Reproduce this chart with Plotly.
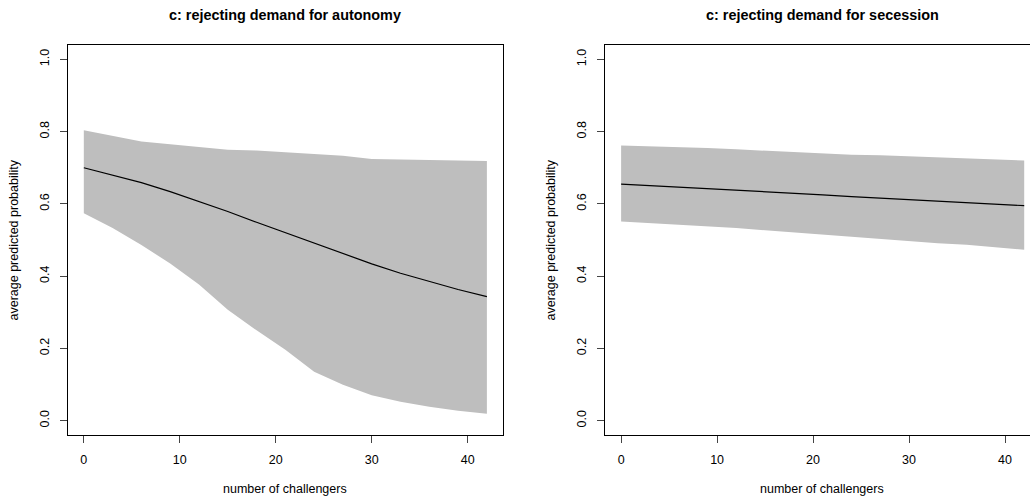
import plotly.graph_objects as go

# ---- data ----
challengers = [0, 3, 6, 9, 12, 15, 18, 21, 24, 27, 30, 33, 36, 39, 42]

autonomy_mean = [0.700, 0.680, 0.659, 0.634, 0.607, 0.579, 0.549, 0.520,
                 0.490, 0.461, 0.434, 0.408, 0.385, 0.363, 0.343]
autonomy_upper = [0.804, 0.788, 0.773, 0.765, 0.757, 0.750, 0.748, 0.742,
                  0.738, 0.733, 0.724, 0.723, 0.721, 0.719, 0.719]
autonomy_lower = [0.574, 0.533, 0.486, 0.435, 0.377, 0.307, 0.250, 0.196,
                  0.135, 0.099, 0.070, 0.052, 0.038, 0.027, 0.019]

secession_mean = [0.655, 0.651, 0.646, 0.642, 0.638, 0.633, 0.629, 0.625,
                  0.620, 0.616, 0.612, 0.607, 0.603, 0.599, 0.595]
secession_upper = [0.762, 0.760, 0.757, 0.755, 0.751, 0.747, 0.743, 0.739,
                   0.736, 0.735, 0.732, 0.729, 0.725, 0.722, 0.720]
secession_lower = [0.551, 0.547, 0.543, 0.537, 0.533, 0.527, 0.521, 0.514,
                   0.507, 0.501, 0.495, 0.491, 0.487, 0.481, 0.473]

x_ticks = [0, 10, 20, 30, 40]
y_ticks = [0.0, 0.2, 0.4, 0.6, 0.8, 1.0]
y_tick_labels = ["0.0", "0.2", "0.4", "0.6", "0.8", "1.0"]

titles = ["c: rejecting demand for autonomy", "c: rejecting demand for secession"]
x_title = "number of challengers"
y_title = "average predicted probability"

FONT = "Liberation Sans, Arial, sans-serif"
BAND = "#BEBEBE"
TICK_SIZE = 12.5

fig = go.Figure()

panels = [
    ("x", "y", autonomy_lower, autonomy_upper, autonomy_mean),
    ("x2", "y2", secession_lower, secession_upper, secession_mean),
]
for xa, ya, lo, up, mn in panels:
    fig.add_trace(go.Scatter(x=challengers, y=lo, mode="lines", line=dict(width=0, color=BAND),
                             xaxis=xa, yaxis=ya, showlegend=False, hoverinfo="skip"))
    fig.add_trace(go.Scatter(x=challengers, y=up, mode="lines", line=dict(width=0, color=BAND),
                             fill="tonexty", fillcolor=BAND,
                             xaxis=xa, yaxis=ya, showlegend=False, hoverinfo="skip"))
    fig.add_trace(go.Scatter(x=challengers, y=mn, mode="lines", line=dict(width=1.2, color="black"),
                             xaxis=xa, yaxis=ya, showlegend=False))

W, H = 1030, 497
top_px, bot_px = 45, 435
ydom = [1 - bot_px / H, 1 - top_px / H]

xcommon = dict(showgrid=False, zeroline=False, showline=True, linecolor="black", linewidth=1,
               ticks="outside", ticklen=7, tickcolor="#444", tickwidth=1, tickvals=x_ticks,
               tickfont=dict(family=FONT, size=TICK_SIZE, color="black"), ticklabelstandoff=6)
ycommon = dict(showgrid=False, zeroline=False, showline=True, linecolor="black", linewidth=1,
               ticks="outside", ticklen=7, tickcolor="#444", tickwidth=1,
               tickvals=y_ticks, ticktext=y_tick_labels, tickangle=-90,
               tickfont=dict(family=FONT, size=TICK_SIZE, color="black"), range=[-0.04, 1.04],
               ticklabelstandoff=6)

fig.update_layout(
    width=W, height=H, margin=dict(l=0, r=0, t=0, b=0),
    paper_bgcolor="white", plot_bgcolor="white",
    xaxis=dict(domain=[67.7 / W, 503 / W], range=[-1.68, 43.68], mirror=True, anchor="y", **xcommon),
    yaxis=dict(domain=ydom, mirror=True, anchor="x", **ycommon),
    xaxis2=dict(domain=[605 / W, 1.0], range=[-1.68, (W - 621) / 9.6], mirror=True, anchor="y2", **xcommon),
    yaxis2=dict(domain=ydom, mirror=False, anchor="x2", **ycommon),
)

annos = []
for cx, t in [(285.4, titles[0]), (822.6, titles[1])]:
    annos.append(dict(text="<b>" + t + "</b>", x=cx / W, y=1 - 15 / H, xref="paper", yref="paper",
                      showarrow=False, xanchor="center", yanchor="middle",
                      font=dict(family=FONT, size=14.4, color="black")))
for cx in [285.4, 822.3]:
    annos.append(dict(text=x_title, x=cx / W, y=1 - 489 / H, xref="paper", yref="paper",
                      showarrow=False, xanchor="center", yanchor="middle",
                      font=dict(family=FONT, size=12.5, color="black")))
for cx in [13.5, 550.5]:
    annos.append(dict(text=y_title, x=cx / W, y=1 - 240 / H, xref="paper", yref="paper",
                      showarrow=False, xanchor="center", yanchor="middle", textangle=-90,
                      font=dict(family=FONT, size=12.5, color="black")))
fig.update_layout(annotations=annos)

fig.write_html("out.html")
